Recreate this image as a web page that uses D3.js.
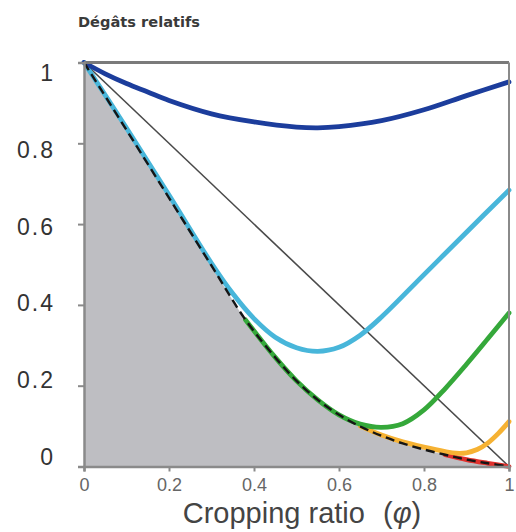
<!DOCTYPE html>
<html>
<head>
<meta charset="utf-8">
<script src="https://cdn.jsdelivr.net/npm/d3@7"></script>
<style>
  html, body { margin: 0; padding: 0; background: #fff; }
  svg { display: block; }
</style>
</head>
<body>
<svg id="chart" width="516" height="532"></svg>
<script>
// ---- data ----
const xTicks = [0, 0.2, 0.4, 0.6, 0.8, 1];
const yTicks = [0, 0.2, 0.4, 0.6, 0.8, 1];
const xTickLabels = ["0", "0.2", "0.4", "0.6", "0.8", "1"];
const yTickLabels = ["0", "0.2", "0.4", "0.6", "0.8", "1"];

// lower envelope (black dashed, top of grey area)
const envX = [0, 0.1, 0.2, 0.3, 0.38, 0.45, 0.5, 0.55, 0.6, 0.65, 0.7, 0.75, 0.8, 0.85, 0.9, 0.95, 1];
const envY = [1, 0.833, 0.665, 0.497, 0.363, 0.27, 0.212, 0.165, 0.128, 0.099, 0.076, 0.057, 0.042, 0.029, 0.017, 0.008, 0];

// dark blue curve
const blueX = [0, 0.05, 0.1, 0.15, 0.2, 0.3, 0.4, 0.5, 0.55, 0.6, 0.7, 0.8, 0.9, 1];
const blueY = [1, 0.972, 0.948, 0.927, 0.906, 0.873, 0.853, 0.84, 0.838, 0.841, 0.856, 0.883, 0.918, 0.952];

// light blue curve
const cyanX = [0, 0.1, 0.2, 0.3, 0.35, 0.4, 0.45, 0.5, 0.55, 0.6, 0.65, 0.7, 0.8, 0.9, 1];
const cyanY = [1, 0.838, 0.672, 0.503, 0.428, 0.366, 0.32, 0.294, 0.285, 0.295, 0.325, 0.37, 0.475, 0.58, 0.684];

// green curve
const greenX = [0.38, 0.45, 0.5, 0.55, 0.6, 0.65, 0.7, 0.75, 0.8, 0.85, 0.9, 0.95, 1];
const greenY = [0.363, 0.27, 0.212, 0.165, 0.128, 0.105, 0.097, 0.106, 0.14, 0.193, 0.253, 0.316, 0.38];

// orange curve
const orangeX = [0.65, 0.7, 0.75, 0.8, 0.85, 0.875, 0.9, 0.925, 0.95, 0.975, 1];
const orangeY = [0.1, 0.078, 0.061, 0.048, 0.037, 0.033, 0.034, 0.042, 0.058, 0.082, 0.111];

// red curve
const redX = [0.85, 0.9, 0.95, 1];
const redY = [0.029, 0.017, 0.008, 0];

// diagonal reference line
const diagX = [0, 1];
const diagY = [1, 0];

// ---- drawing ----
const svg = d3.select("#chart");
const x = d3.scaleLinear().domain([0, 1]).range([84, 509]);
const y = d3.scaleLinear().domain([0, 1]).range([466.5, 62.5]);

const pts = (xs, ys) => xs.map((v, i) => [v, ys[i]]);
const curve = d3.curveCatmullRom.alpha(0.5);
const line = d3.line().x(d => x(d[0])).y(d => y(d[1])).curve(curve);
const area = d3.area().x(d => x(d[0])).y0(y(0)).y1(d => y(d[1])).curve(curve);

// grey area under envelope
svg.append("path").datum(pts(envX, envY)).attr("d", area).attr("fill", "#bebec2");

// diagonal
svg.append("path").datum(pts(diagX, diagY))
  .attr("d", d3.line().x(d => x(d[0])).y(d => y(d[1])))
  .attr("fill", "none").attr("stroke", "#4a4a4a").attr("stroke-width", 1.6);

const curves = [
  {xs: redX, ys: redY, color: "#e0302c"},
  {xs: orangeX, ys: orangeY, color: "#f6b233"},
  {xs: greenX, ys: greenY, color: "#35a83a"},
  {xs: cyanX, ys: cyanY, color: "#48b6da"},
  {xs: blueX, ys: blueY, color: "#1c3d9c"}
];
curves.forEach(c => {
  svg.append("path").datum(pts(c.xs, c.ys)).attr("d", line)
    .attr("fill", "none").attr("stroke", c.color).attr("stroke-width", 4.8)
    .attr("stroke-linecap", "round");
});

// dashed envelope
svg.append("path").datum(pts(envX, envY)).attr("d", line)
  .attr("fill", "none").attr("stroke", "#151515").attr("stroke-width", 2.4)
  .attr("stroke-dasharray", "9,5");

// frame (top and right)
svg.append("line").attr("x1", x(0)).attr("x2", x(1)).attr("y1", y(1)).attr("y2", y(1))
  .attr("stroke", "#7a7a7a").attr("stroke-width", 3);
svg.append("line").attr("x1", x(1)).attr("x2", x(1)).attr("y1", y(1)).attr("y2", y(0))
  .attr("stroke", "#8a8a8a").attr("stroke-width", 2);

// axes
const xAxis = d3.axisBottom(x).tickValues(xTicks).tickSize(5).tickPadding(7)
  .tickFormat((d, i) => xTickLabels[i]);
const gx = svg.append("g").attr("transform", `translate(0,${y(0)})`).call(xAxis);
gx.select(".domain").attr("stroke", "#8a8a8a").attr("stroke-width", 2.5);
gx.selectAll(".tick line").attr("stroke", "#8a8a8a").attr("stroke-width", 2);
gx.selectAll(".tick text").attr("font-family", "'Liberation Sans', Arial, sans-serif")
  .attr("font-size", 18).attr("fill", "#666");

const yAxis = d3.axisLeft(y).tickValues(yTicks).tickSize(6).tickPadding(0)
  .tickFormat((d, i) => yTickLabels[i]);
const gy = svg.append("g").attr("transform", `translate(${x(0)},0)`).call(yAxis);
gy.select(".domain").attr("stroke", "#8a8a8a").attr("stroke-width", 2.5);
gy.selectAll(".tick line").attr("stroke", "#8a8a8a").attr("stroke-width", 2);
gy.selectAll(".tick text")
  .attr("x", -29)
  .attr("dy", d => ((d - 0.5) * 20 + 8) + "px")
  .attr("font-family", "'Liberation Sans', Arial, sans-serif")
  .attr("font-size", 23).attr("letter-spacing", "2px").attr("fill", "#333");

// axis title
const t = svg.append("text").attr("x", 302).attr("y", 523).attr("text-anchor", "middle")
  .attr("font-family", "'Liberation Sans', Arial, sans-serif").attr("font-size", 29).attr("fill", "#444");
t.append("tspan").text("Cropping ratio");
t.append("tspan").attr("dx", 10).text(" (");
t.append("tspan").attr("font-style", "italic").text("φ");
t.append("tspan").text(")");

// top label
svg.append("text").attr("x", 78).attr("y", 27)
  .attr("font-family", "'DejaVu Sans', sans-serif").attr("font-weight", "bold")
  .attr("font-size", 14.6).attr("fill", "#3a3a3a").text("Dégâts relatifs");
</script>
</body>
</html>
